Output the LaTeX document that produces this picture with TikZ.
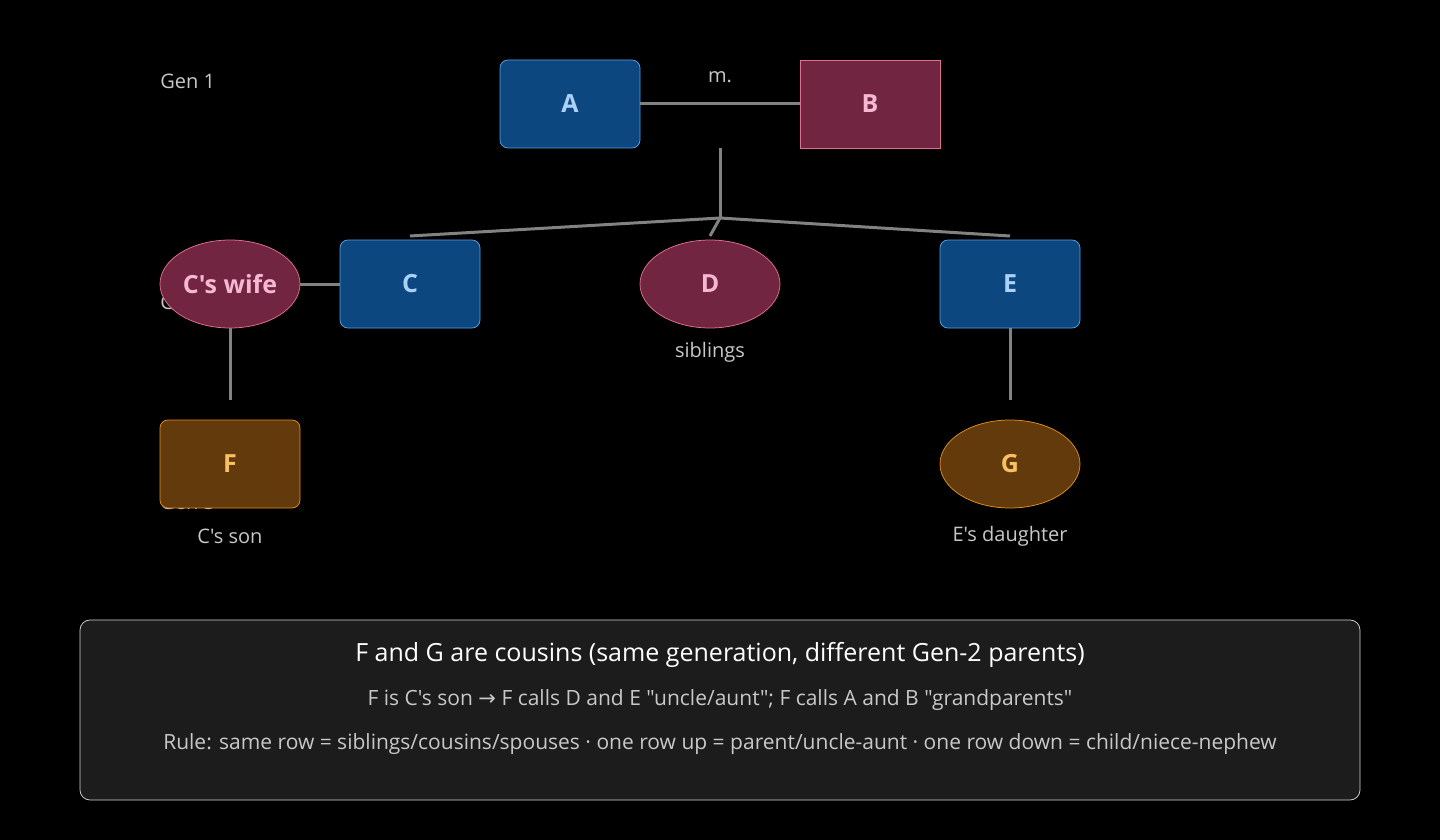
\documentclass[tikz,border=0pt]{standalone}
\usepackage{fontspec}
\setmainfont{Open Sans}[Ligatures=TeXOff]
\newfontfamily\symfont{DejaVu Sans}
\usetikzlibrary{shapes.geometric}
\definecolor{bluefill}{RGB}{13,71,128}
\definecolor{blueline}{RGB}{90,160,225}
\definecolor{bluetext}{RGB}{170,210,248}
\definecolor{pinkfill}{RGB}{114,37,65}
\definecolor{pinkline}{RGB}{224,112,144}
\definecolor{pinktext}{RGB}{245,184,208}
\definecolor{brownfill}{RGB}{99,58,11}
\definecolor{brownline}{RGB}{224,144,32}
\definecolor{browntext}{RGB}{248,192,96}
\definecolor{linkgray}{RGB}{130,130,130}
\definecolor{labelgray}{RGB}{200,200,200}
\tikzset{every picture/.style={line width=0.75pt}}
\tikzset{
  person/.style={minimum width=140pt,minimum height=88pt,inner sep=0pt,font=\fontsize{25}{28}\selectfont\bfseries},
  malebox/.style={person,rectangle,rounded corners=8pt,fill=bluefill,draw=blueline,text=bluetext},
  femalebox/.style={person,rectangle,fill=pinkfill,draw=pinkline,text=pinktext},
  femaleoval/.style={person,ellipse,fill=pinkfill,draw=pinkline,text=pinktext},
  childbox/.style={person,rectangle,rounded corners=8pt,fill=brownfill,draw=brownline,text=browntext},
  childoval/.style={person,ellipse,fill=brownfill,draw=brownline,text=browntext},
  link/.style={draw=linkgray,line width=3pt},
  note/.style={text=labelgray,font=\fontsize{20}{24}\selectfont,inner sep=0pt}
}
\begin{document}
\begin{tikzpicture}[x=1pt,y=1pt,yscale=-1]
\useasboundingbox[fill=black] (0,0) rectangle (1440,840);

% generation labels (partly hidden)
\node[note,anchor=west] (gen1) at (160,81) {Gen 1};
\node[note,anchor=west] (gen2) at (160,302) {Gen 2};
\node[note,anchor=west] (gen3) at (160,502) {Gen 3};

% generation 1
\node[malebox] (A) at (570,104) {A};
\node[femalebox] (B) at (870,104) {B};
\node[note] (married) at (720,77) {m.};
\draw[link] (A) -- (B);
\coordinate (top) at (720,148);
\coordinate (fork) at (720,218);
\coordinate (toC) at (410,236);
\coordinate (toD) at (710,236);
\coordinate (toE) at (1010,236);
\draw[link] (top) -- (fork);
\draw[link] (toC) -- (fork) -- (toE);
\draw[link] (fork) -- (toD);

% generation 2
\node[femaleoval] (wife) at (230,284) {C's wife};
\node[malebox] (C) at (410,284) {C};
\node[femaleoval] (D) at (710,284) {D};
\node[malebox] (E) at (1010,284) {E};
\draw[link] (wife) -- (C);
\node[note] (sib) at (710,352) {siblings};

% generation 3
\node[childbox] (F) at (230,464) {F};
\node[childoval] (G) at (1010,464) {G};
\coordinate (Fup) at (230,400);
\coordinate (Gup) at (1010,400);
\draw[link] (wife.south) -- (Fup);
\draw[link] (E.south) -- (Gup);
\node[note] (son) at (230,536) {C's son};
\node[note] (dau) at (1010,536) {E's daughter};

% legend
\node[draw=labelgray!80,fill=white!11!black,rounded corners=10pt,minimum width=1280pt,minimum height=180pt] (legend) at (720,710) {};
\node[text=white,font=\fontsize{25}{29}\selectfont] (l1) at (720,655) {F and G are cousins (same generation, different Gen-2 parents)};
\node[note,font=\fontsize{21}{25}\selectfont] (l2) at (720,700) {F is C's son {\symfont →} F calls D and E "uncle/aunt"; F calls A and B "grandparents"};
\node[note,font=\fontsize{21}{25}\selectfont] (l3) at (720,744) {Rule: same row = siblings/cousins/spouses · one row up = parent/uncle-aunt · one row down = child/niece-nephew};
\end{tikzpicture}
\end{document}
